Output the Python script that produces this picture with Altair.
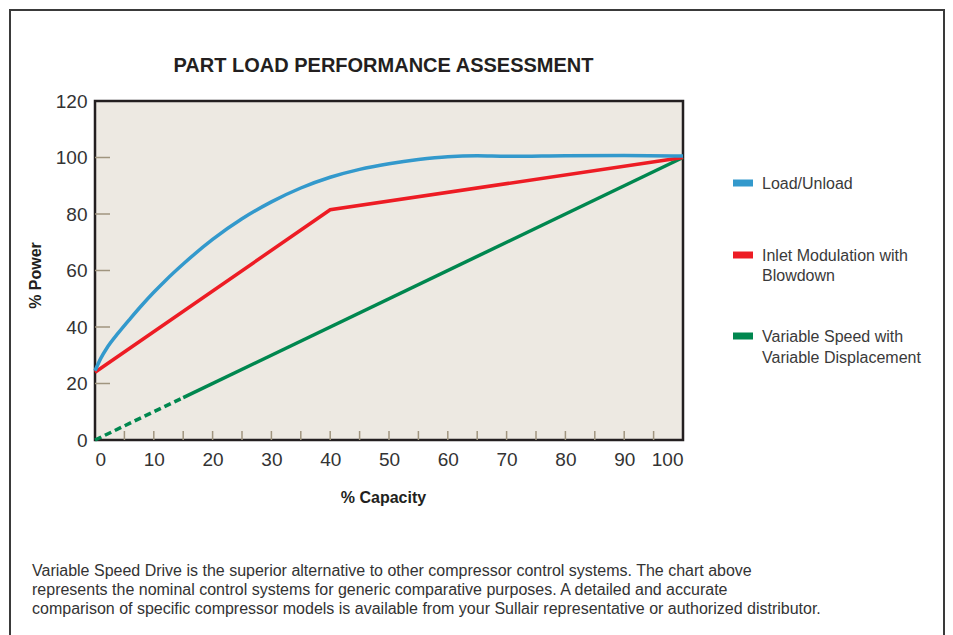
import altair as alt
import pandas as pd

FONT = "Liberation Sans"

# ---- data ----
capacity_blue = [0, 1, 2, 4, 6, 8, 10, 12, 15, 20, 25, 30, 35, 40, 45, 50, 55, 60, 65, 70, 80, 90, 100]
power_blue = [24.5, 29, 32.5, 38, 43, 47.8, 52.3, 56.5, 62.3, 71, 78.3, 84.3, 89.2, 93, 95.8, 97.8, 99.3, 100.3, 100.6, 100.4, 100.6, 100.7, 100.5]

capacity_red = [0, 40, 100]
power_red = [24, 81.5, 100]

capacity_green_dashed = [0, 15]
power_green_dashed = [0, 15]
capacity_green = [15, 100]
power_green = [15, 100]

x_labels = [0, 10, 20, 30, 40, 50, 60, 70, 80, 90, 100]
y_labels = [0, 20, 40, 60, 80, 100, 120]
x_minor_ticks = [5, 10, 15, 20, 25, 30, 35, 40, 45, 50, 55, 60, 65, 70, 75, 80, 85, 90, 95]
y_minor_ticks = [20, 40, 60, 80, 100]

series_names = ["Load/Unload", "Inlet Modulation with\nBlowdown", "Variable Speed with\nVariable Displacement"]
series_colors = ["#3399cc", "#ed1c24", "#00874f"]

title_text = "PART LOAD PERFORMANCE ASSESSMENT"
footnote_lines = [
    "Variable Speed Drive is the superior alternative to other compressor control systems. The chart above",
    "represents the nominal control systems for generic comparative purposes. A detailed and accurate",
    "comparison of specific compressor models is available from your Sullair representative or authorized distributor.",
]

# ---- tables ----
blue_df = pd.DataFrame({"capacity": capacity_blue, "power": power_blue})
red_df = pd.DataFrame({"capacity": capacity_red, "power": power_red})
green_dash_df = pd.DataFrame({"capacity": capacity_green_dashed, "power": power_green_dashed})
green_df = pd.DataFrame({"capacity": capacity_green, "power": power_green})
xt_df = pd.DataFrame({"capacity": x_minor_ticks})
yt_df = pd.DataFrame({"power": y_minor_ticks})
dummy = pd.DataFrame({"d": [0]})

x_scale = alt.Scale(domain=[0, 100], nice=False, zero=False)
y_scale = alt.Scale(domain=[0, 120], nice=False, zero=False)

x_axis = alt.Axis(
    values=x_labels, title="% Capacity", grid=False, ticks=False, domain=False,
    labelFont=FONT, labelFontSize=19, labelColor="#333333", labelPadding=10,
    titleFont=FONT, titleFontSize=16, titleFontWeight="bold", titleColor="#231f20",
    titleX=288, titleY=57, titleBaseline="middle", titleAlign="center",
)
y_axis = alt.Axis(
    values=y_labels, title="% Power", grid=False, ticks=False, domain=False,
    labelFont=FONT, labelFontSize=19, labelColor="#333333", labelPadding=8,
    titleFont=FONT, titleFontSize=16, titleFontWeight="bold", titleColor="#231f20",
    titleX=-60, titleY=174, titleAngle=270, titleBaseline="middle", titleAlign="center",
)

X = alt.X("capacity:Q", scale=x_scale, axis=x_axis)
Y = alt.Y("power:Q", scale=y_scale, axis=y_axis)

border = alt.Chart(dummy).mark_rect(fillOpacity=0, stroke="#3a3a3a", strokeWidth=2).encode(
    x=alt.value(-85), x2=alt.value(849), y=alt.value(-91), y2=alt.value(640)
)

x_ticks = alt.Chart(xt_df).mark_rule(color="#a0957f", strokeWidth=1.5).encode(
    x=alt.X("capacity:Q", scale=x_scale, axis=x_axis), y=alt.value(339), y2=alt.value(330)
)
y_ticks = alt.Chart(yt_df).mark_rule(color="#a0957f", strokeWidth=1.5).encode(
    y=alt.Y("power:Q", scale=y_scale, axis=y_axis), x=alt.value(0), x2=alt.value(15)
)

green_dash = alt.Chart(green_dash_df).mark_line(color=series_colors[2], strokeWidth=3.5, strokeDash=[7, 4]).encode(x=X, y=Y)
green = alt.Chart(green_df).mark_line(color=series_colors[2], strokeWidth=3.5).encode(x=X, y=Y)
red = alt.Chart(red_df).mark_line(color=series_colors[1], strokeWidth=3.5).encode(x=X, y=Y)
blue = alt.Chart(blue_df).mark_line(color=series_colors[0], strokeWidth=3.5, interpolate="monotone").encode(x=X, y=Y)

title = alt.Chart(dummy).mark_text(
    font=FONT, fontSize=20, fontWeight="bold", color="#231f20", align="center", baseline="alphabetic"
).encode(x=alt.value(288.5), y=alt.value(-29), text=alt.value(title_text))

legend_layers = []
legend_y = [82, 154, 235]
line_heights = [20, 20, 21]
for name, col, yc, lh in zip(series_names, series_colors, legend_y, line_heights):
    legend_layers.append(
        alt.Chart(dummy).mark_rect(color=col).encode(
            x=alt.value(638), x2=alt.value(658), y=alt.value(yc - 3.5), y2=alt.value(yc + 3.5)
        )
    )
    legend_layers.append(
        alt.Chart(dummy).mark_text(
            font=FONT, fontSize=16, color="#3a3a3a", align="left", baseline="alphabetic", lineHeight=lh
        ).encode(x=alt.value(667), y=alt.value(yc + 6), text=alt.value(name.split("\n")))
    )

footnote = alt.Chart(dummy).mark_text(
    font=FONT, fontSize=16, color="#333333", align="left", baseline="alphabetic", lineHeight=19
).encode(x=alt.value(-63), y=alt.value(475), text=alt.value(footnote_lines))

chart = alt.layer(
    border, green_dash, green, red, blue, x_ticks, y_ticks, title, footnote, *legend_layers
).properties(
    width=588, height=339,
    padding={"left": 87, "top": 93, "right": 262, "bottom": 195},
    autosize=alt.AutoSizeParams(type="none"),
    background="white",
).configure_view(
    fill="#ede9e2", stroke="#231f20", strokeWidth=2.5
)

chart.save("out.html", embed_options={"renderer": "svg", "actions": False})
